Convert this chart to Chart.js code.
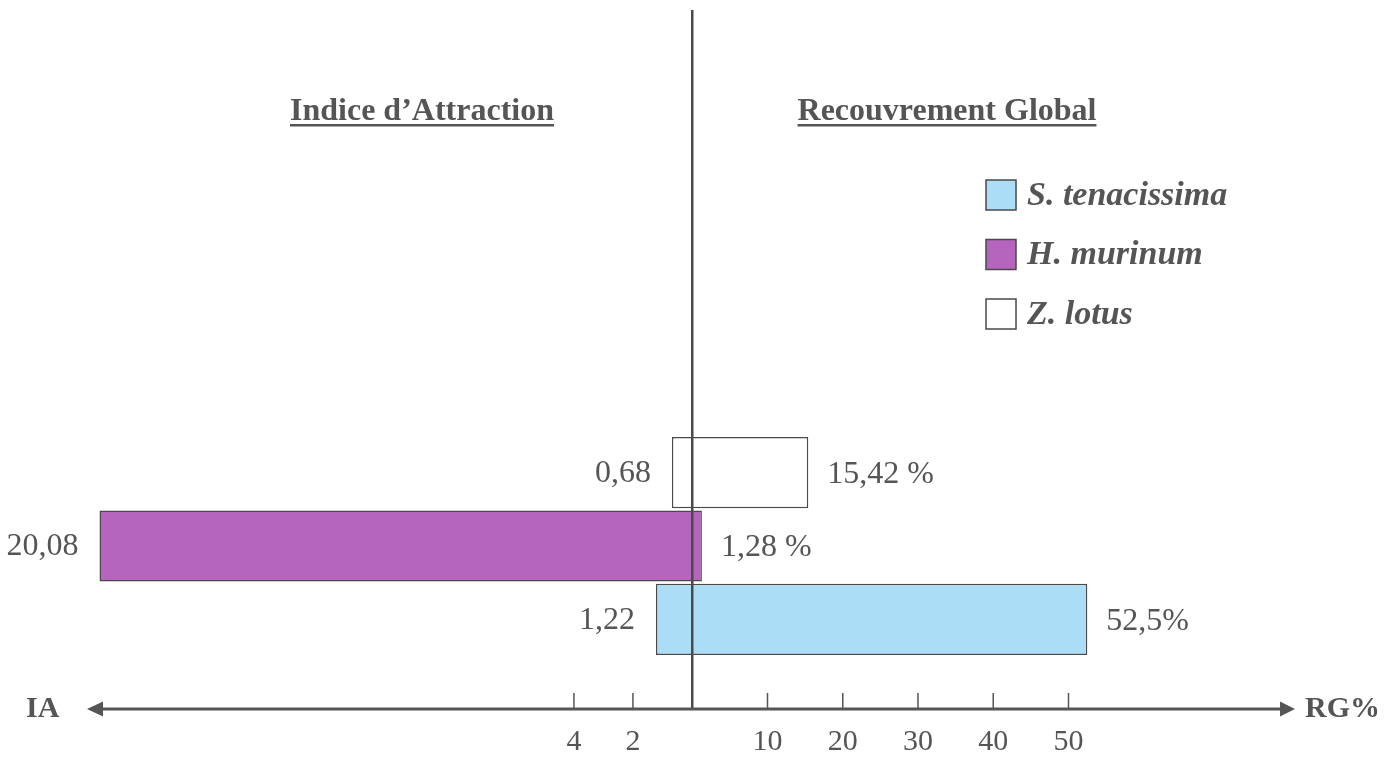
<!DOCTYPE html>
<html>
<head>
<meta charset="utf-8">
<script src="https://cdn.jsdelivr.net/npm/chart.js@4.4.1/dist/chart.umd.min.js"></script>
<style>
    html, body { margin: 0; padding: 0; background: #fff; }
    #wrap { width: 1399px; height: 757px; }
</style>
</head>
<body>
<div id="wrap"><canvas id="iaChart" width="1399" height="757"></canvas></div>
<script>
// espèces (de haut en bas)
const species = ["Z. lotus", "H. murinum", "S. tenacissima"];
// Indice d'Attraction (côté gauche)
const iaValues = [0.68, 20.08, 1.22];
// Recouvrement Global en % (côté droit)
const rgValues = [15.42, 1.28, 52.5];
const rgLabels = ["15,42 %", "1,28 %", "52,5%"];
// graduations
const iaTicks = [2, 4];
const rgTicks = [10, 20, 30, 40, 50];
// légende (ordre affiché)
const legendOrder = ["S. tenacissima", "H. murinum", "Z. lotus"];

const speciesColors = {
    "Z. lotus": "#ffffff",
    "H. murinum": "#b565be",
    "S. tenacissima": "#abdef6"
};

const textColor = "#555555";
const lineColor = "#4a4a4a";
const serif = "'Liberation Serif', 'Times New Roman', serif";

// axes, titres, étiquettes et légende dessinés à la main
const overlayPlugin = {
    id: "overlay",
    afterDatasetsDraw(chart) {
        const ctx = chart.ctx;
        const xl = chart.scales.xl;
        const xr = chart.scales.xr;
        const area = chart.chartArea;
        const zeroX = xr.getPixelForValue(0);
        const axisY = 709;

        ctx.save();

        // valeurs à côté des barres
        ctx.font = `32px ${serif}`;
        ctx.fillStyle = textColor;
        ctx.textBaseline = "middle";
        chart.getDatasetMeta(0).data.forEach((bar, i) => {
            ctx.textAlign = "right";
            ctx.fillText(iaValues[i].toString().replace(".", ","), bar.x - 21, bar.y + 1);
        });
        chart.getDatasetMeta(1).data.forEach((bar, i) => {
            ctx.textAlign = "left";
            ctx.fillText(rgLabels[i], bar.x + 19, bar.y + 2);
        });

        // axe vertical
        ctx.strokeStyle = lineColor;
        ctx.lineWidth = 2.5;
        ctx.beginPath();
        ctx.moveTo(zeroX, 10);
        ctx.lineTo(zeroX, axisY);
        ctx.stroke();

        // axe horizontal avec flèches
        ctx.strokeStyle = textColor;
        ctx.fillStyle = textColor;
        ctx.lineWidth = 3;
        ctx.beginPath();
        ctx.moveTo(area.left + 10, axisY);
        ctx.lineTo(area.right - 10, axisY);
        ctx.stroke();
        ctx.beginPath();
        ctx.moveTo(area.left - 1, axisY);
        ctx.lineTo(area.left + 15, axisY - 7.5);
        ctx.lineTo(area.left + 15, axisY + 7.5);
        ctx.closePath();
        ctx.fill();
        ctx.beginPath();
        ctx.moveTo(area.right, axisY);
        ctx.lineTo(area.right - 15, axisY - 7.5);
        ctx.lineTo(area.right - 15, axisY + 7.5);
        ctx.closePath();
        ctx.fill();

        // graduations
        ctx.lineWidth = 1.5;
        ctx.font = `30px ${serif}`;
        ctx.textAlign = "center";
        ctx.textBaseline = "middle";
        const drawTick = (px, label) => {
            ctx.beginPath();
            ctx.moveTo(px, axisY - 16);
            ctx.lineTo(px, axisY);
            ctx.stroke();
            ctx.fillText(label, px, axisY + 33);
        };
        iaTicks.forEach(t => drawTick(xl.getPixelForValue(t), String(t)));
        rgTicks.forEach(t => drawTick(xr.getPixelForValue(t), String(t)));

        // noms des axes
        ctx.font = `bold 30px ${serif}`;
        ctx.textAlign = "left";
        ctx.fillText("IA", 26, axisY);
        ctx.fillText("RG%", 1305, axisY);

        // titres soulignés
        const drawTitle = (text, cx) => {
            ctx.font = `bold 32px ${serif}`;
            ctx.textAlign = "center";
            ctx.textBaseline = "alphabetic";
            ctx.fillText(text, cx, 120);
            const w = ctx.measureText(text).width;
            ctx.fillRect(cx - w / 2, 124, w, 2.5);
        };
        drawTitle("Indice d\u2019Attraction", 422);
        drawTitle("Recouvrement Global", 947);

        // légende
        legendOrder.forEach((name, i) => {
            const y = 180 + i * 59.5;
            ctx.fillStyle = speciesColors[name];
            ctx.fillRect(986, y, 30, 30);
            ctx.strokeStyle = lineColor;
            ctx.lineWidth = 1.5;
            ctx.strokeRect(986, y, 30, 30);
            ctx.fillStyle = textColor;
            ctx.font = `italic bold 34px ${serif}`;
            ctx.textAlign = "left";
            ctx.textBaseline = "middle";
            ctx.fillText(name, 1027, y + 16);
        });

        ctx.restore();
    }
};

const barColors = species.map(s => speciesColors[s]);

new Chart(document.getElementById("iaChart"), {
    type: "bar",
    data: {
        labels: species,
        datasets: [
            {
                label: "Indice d'Attraction",
                data: iaValues,
                xAxisID: "xl",
                backgroundColor: barColors,
                borderColor: lineColor,
                borderWidth: 1.5
            },
            {
                label: "Recouvrement Global",
                data: rgValues,
                xAxisID: "xr",
                backgroundColor: barColors,
                borderColor: lineColor,
                borderWidth: 1.5
            }
        ]
    },
    options: {
        indexAxis: "y",
        responsive: false,
        animation: false,
        grouped: false,
        categoryPercentage: 1,
        barPercentage: 0.97,
        layout: {
            padding: { left: 88, right: 104, top: 436, bottom: 101 }
        },
        scales: {
            y: { display: false },
            xl: {
                type: "linear",
                position: "bottom",
                reverse: true,
                min: -20.44,
                max: 20.47,
                display: false
            },
            xr: {
                type: "linear",
                position: "bottom",
                min: -80.3,
                max: 80.1,
                display: false
            }
        },
        plugins: {
            legend: { display: false },
            tooltip: { enabled: false }
        }
    },
    plugins: [overlayPlugin]
});
</script>
</body>
</html>
